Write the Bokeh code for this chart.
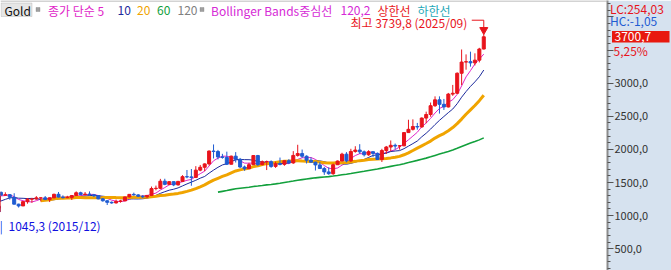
import numpy as np
import pandas as pd
from bokeh.plotting import figure
from bokeh.models import (Range1d, SingleIntervalTicker, CustomJSTickFormatter, Label,
                          BoxAnnotation, Span, ColumnDataSource)
from bokeh.core.properties import value
from bokeh.embed import file_html
from bokeh.resources import INLINE

# ---------------- data (monthly Gold, 2015/10 .. 2025/09) ----------------
months = [str(m) for m in pd.period_range("2015-10", "2025-09", freq="M")]

opens = [1115, 1142, 1065,
         1061, 1118, 1238, 1233, 1293, 1215, 1322, 1351, 1309, 1316, 1277, 1173,
         1146, 1211, 1249, 1251, 1268, 1269, 1242, 1269, 1322, 1280, 1271, 1275,
         1303, 1345, 1318, 1325, 1315, 1299, 1253, 1224, 1201, 1192, 1215, 1222,
         1282, 1321, 1313, 1292, 1284, 1305, 1409, 1413, 1520, 1472, 1513, 1464,
         1517, 1588, 1585, 1577, 1687, 1730, 1781, 1975, 1968, 1886, 1879, 1776,
         1898, 1850, 1734, 1708, 1769, 1907, 1770, 1814, 1815, 1743, 1783, 1774,
         1829, 1796, 1909, 1937, 1897, 1837, 1807, 1766, 1711, 1660, 1633, 1768,
         1824, 1928, 1827, 1969, 1990, 1963, 1919, 1965, 1940, 1848, 1983, 2036,
         2062, 2050, 2054, 2254, 2303, 2345, 2339, 2473, 2527, 2660, 2749, 2681,
         2641, 2835, 2848, 3150, 3319, 3325, 3307, 3348, 3516.1]
highs = [1191, 1146, 1088,
         1125, 1263, 1283, 1303, 1304, 1362, 1375, 1367, 1352, 1326, 1338, 1180,
         1220, 1264, 1263, 1295, 1270, 1296, 1274, 1331, 1357, 1306, 1299, 1309,
         1366, 1361, 1356, 1366, 1326, 1309, 1266, 1233, 1214, 1243, 1237, 1284,
         1326, 1347, 1324, 1310, 1306, 1439, 1453, 1555, 1557, 1520, 1516, 1524,
         1611, 1689, 1704, 1747, 1765, 1789, 1984, 2075, 1992, 1933, 1966, 1906,
         1959, 1871, 1756, 1798, 1913, 1917, 1832, 1831, 1834, 1814, 1877, 1831,
         1853, 1974, 2070, 1998, 1910, 1879, 1814, 1808, 1735, 1730, 1786, 1833,
         1949, 1959, 2009, 2048, 2079, 1983, 1987, 1970, 1953, 2009, 2052, 2135,
         2088, 2065, 2256, 2448, 2454, 2400, 2483, 2570, 2708, 2801, 2801, 2762,
         2853, 2974, 3163, 3509, 3435, 3476, 3451, 3534, 3739.8]
lows = [1111, 1052, 1045.3,
        1058, 1107, 1208, 1207, 1200, 1208, 1310, 1302, 1302, 1241, 1171, 1122,
        1146, 1180, 1194, 1241, 1214, 1236, 1205, 1263, 1274, 1260, 1264, 1237,
        1302, 1307, 1303, 1302, 1282, 1246, 1211, 1160, 1180, 1182, 1196, 1221,
        1276, 1303, 1281, 1266, 1267, 1301, 1382, 1400, 1459, 1460, 1445, 1454,
        1517, 1564, 1451, 1568, 1670, 1671, 1757, 1863, 1849, 1860, 1764, 1775,
        1802, 1717, 1677, 1705, 1766, 1751, 1761, 1688, 1722, 1721, 1759, 1753,
        1780, 1782, 1890, 1872, 1787, 1805, 1681, 1709, 1615, 1617, 1616, 1765,
        1823, 1805, 1810, 1950, 1932, 1893, 1903, 1885, 1846, 1810, 1931, 1973,
        2001, 1996, 2048, 2253, 2285, 2298, 2329, 2395, 2493, 2642, 2541, 2596,
        2633, 2809, 2836, 2970, 3204, 3250, 3268, 3314, 3510]
closes = [1142, 1065, 1061,
          1118, 1238, 1233, 1293, 1215, 1322, 1351, 1309, 1316, 1277, 1173, 1146,
          1211, 1249, 1251, 1268, 1269, 1242, 1269, 1322, 1280, 1271, 1275, 1303,
          1345, 1318, 1325, 1315, 1299, 1253, 1224, 1201, 1192, 1215, 1222, 1282,
          1321, 1313, 1292, 1284, 1305, 1409, 1413, 1520, 1472, 1513, 1464, 1517,
          1588, 1585, 1577, 1687, 1730, 1781, 1975, 1968, 1886, 1879, 1776, 1898,
          1850, 1734, 1708, 1769, 1907, 1770, 1814, 1815, 1743, 1783, 1774, 1829,
          1796, 1909, 1937, 1897, 1837, 1807, 1766, 1711, 1660, 1633, 1768, 1824,
          1928, 1827, 1969, 1990, 1963, 1919, 1965, 1940, 1848, 1983, 2036, 2062,
          2050, 2054, 2254, 2303, 2345, 2339, 2473, 2527, 2660, 2749, 2681, 2641,
          2835, 2848, 3150, 3319, 3325, 3307, 3348, 3516.1, 3700.7]

ma_periods = [5, 10, 20, 60]
ma_colors = ["#e024c8", "#1c2a9c", "#f0a400", "#12a03c"]
ma_widths = [1, 1, 3, 1.6]

lc_text = "LC:254,03"
hc_text = "HC:-1,05"
change_text = "5,25%"

# ---------------- layout constants ----------------
W, H = 671, 270
FRAME_W = 607
PX_PER_MONTH = 4.43
X_START = 9.91
X_END = X_START + FRAME_W / PX_PER_MONTH
Y0, Y1 = 171, 4249
PPU = H / (Y1 - Y0)          # pixels per price unit
FONT = "Noto Sans CJK KR"

UP, DOWN = "#e8141c", "#1f5cd2"


def sx(px):   # canvas px -> data x
    return X_START + px / PX_PER_MONTH


def sy(py):   # canvas px (from top) -> data y
    return Y1 - py / PPU


idx = np.arange(len(months))
o = np.array(opens, float); h = np.array(highs, float)
l = np.array(lows, float); c = np.array(closes, float)
up = c >= o
src = ColumnDataSource(dict(
    x=idx, o=o, h=h, l=l, c=c,
    top=np.maximum(o, c), bottom=np.minimum(o, c),
    color=[UP if u else DOWN for u in up]))

p = figure(width=W, height=H, output_backend="svg", toolbar_location=None,
           x_range=Range1d(X_START, X_END), y_range=Range1d(Y0, Y1),
           x_axis_location=None, y_axis_location="right",
           min_border=0, min_border_right=W - FRAME_W)
p.background_fill_color = "white"
p.border_fill_color = "#d6e2ef"
p.outline_line_color = None
p.grid.grid_line_color = None

ax = p.yaxis[0]
ax.ticker = SingleIntervalTicker(interval=500, num_minor_ticks=5)
ax.formatter = CustomJSTickFormatter(
    code="return tick >= 3500 ? '' : tick.toFixed(1).replace('.', ',');")
ax.axis_line_color = "#8c8c8c"
ax.axis_line_width = 2
ax.major_tick_in = 0
ax.major_tick_out = 6
ax.minor_tick_in = 0
ax.minor_tick_out = 3
ax.major_tick_line_color = "#555555"
ax.minor_tick_line_color = "#555555"
ax.major_label_standoff = 1
ax.major_label_text_font = FONT
ax.major_label_text_font_size = "11px"
ax.major_label_text_color = "#333333"

# moving averages
s_close = pd.Series(closes, dtype=float)
for per, col, wd in zip(ma_periods, ma_colors, ma_widths):
    ma = s_close.rolling(per).mean().to_numpy()
    p.line(idx, ma, line_color=col, line_width=wd)

# candles
p.segment(x0="x", y0="h", x1="x", y1="l", source=src, line_color="color", line_width=1)
p.vbar(x="x", top="top", bottom="bottom", width=0.68, source=src,
       fill_color="color", line_color="color", line_width=1)

# top border line
p.add_layout(Span(location=Y1 - 0.5 / PPU, dimension="width",
                  line_color="#a8a8a8", line_width=1))


def lab(text, x, y, color, size="12px", align="left", **kw):
    p.add_layout(Label(x=x, y=H - y, x_units="screen", y_units="screen", text=text,
                       text_color=color, text_font=FONT, text_font_size=size,
                       text_baseline="middle", text_align=align, **kw))


def side_text(text, px, py, color, size="12px"):
    # text in the right-hand price panel, drawn unclipped at overlay level
    p.text(x=[sx(px)], y=[sy(py)], text=[text], text_color=color,
           text_font=value(FONT), text_font_size=value(size),
           text_baseline="middle", text_align="left", level="overlay")


# legend row
p.add_layout(BoxAnnotation(left=0.5, right=31.5, top=H - 2.5, bottom=H - 16,
                           left_units="screen", right_units="screen",
                           top_units="screen", bottom_units="screen",
                           fill_color="#e6e6e6", fill_alpha=1,
                           line_color="#9a9a9a", line_width=1))
lab("Gold", 4, 9.5, "#111111")
for bx in (35.5, 199.5):
    p.add_layout(BoxAnnotation(left=bx, right=bx + 4, top=H - 7, bottom=H - 11,
                               left_units="screen", right_units="screen",
                               top_units="screen", bottom_units="screen",
                               fill_color="#a0a0a0", fill_alpha=1,
                               line_color="#707070", line_width=1))
lab("종가 단순 5", 47.5, 9.5, ma_colors[0])
lab("10", 117, 9.5, ma_colors[1])
lab("20", 136.5, 9.5, ma_colors[2])
lab("60", 156.5, 9.5, ma_colors[3])
lab("120", 177, 9.5, "#808080")
lab("Bollinger Bands중심선", 210.5, 9.5, "#d62ad6")
lab("120,2", 340, 9.5, "#d62ad6")
lab("상한선", 377, 9.5, "#e8201c")
lab("하한선", 417, 9.5, "#1fa8b8")

# max marker
imax = int(np.argmax(h))
hi = h[imax]
p.add_layout(Label(x=imax, y=hi, text=f"최고 {hi:.1f} ({months[imax].replace('-', '/')})".replace('.', ','),
                   text_color="#e8141c", text_font=FONT, text_font_size="12px",
                   text_align="right", text_baseline="middle",
                   x_offset=-16.5, y_offset=12))
y_line = hi + 14 / PPU
y_bend = hi + 6.5 / PPU
p.segment(x0=[imax - 12 / PX_PER_MONTH, imax], y0=[y_line, y_line],
          x1=[imax, imax], y1=[y_line, y_bend], line_color="#e8141c", line_width=1)
p.segment(x0=[imax - 3.5 / PX_PER_MONTH], y0=[y_bend], x1=[imax + 3.5 / PX_PER_MONTH],
          y1=[y_bend], line_color="#e8141c", line_width=1)
p.scatter(x=[imax], y=[hi + 4.3 / PPU], marker="inverted_triangle", size=8,
          fill_color="#e8141c", line_color="#e8141c")

# min marker
imin = int(np.argmin(l))
lo = l[imin]
p.add_layout(Label(x=-1, y=lo, x_units="screen", text="|", text_color="#1010e0",
                   text_font=FONT, text_font_size="12px", text_baseline="middle",
                   y_offset=-13))
p.add_layout(Label(x=8, y=lo, x_units="screen",
                   text=f"{lo:.1f} ({months[imin].replace('-', '/')})".replace('.', ','),
                   text_color="#1010e0", text_font=FONT, text_font_size="12px",
                   text_baseline="middle", y_offset=-13))

# right panel
side_text(lc_text, 609.5, 8, "#e8141c", "12px")
side_text(hc_text, 609.5, 20, "#1f5cd2", "12px")
last = c[-1]
p.quad(left=[sx(611.5)], right=[sx(669)], top=[last + 5.8 / PPU], bottom=[last - 5.8 / PPU],
       fill_color="#e8190f", line_color=None, level="overlay")
p.text(x=[sx(614)], y=[last], text=[f"{last:.1f}".replace('.', ',')], text_color="white",
       text_font=value(FONT), text_font_size=value("12px"),
       text_baseline="middle", text_align="left", level="overlay")
side_text(change_text, 613, 49.5, "#e8141c")

open("out.html", "w").write(file_html(p, INLINE))
